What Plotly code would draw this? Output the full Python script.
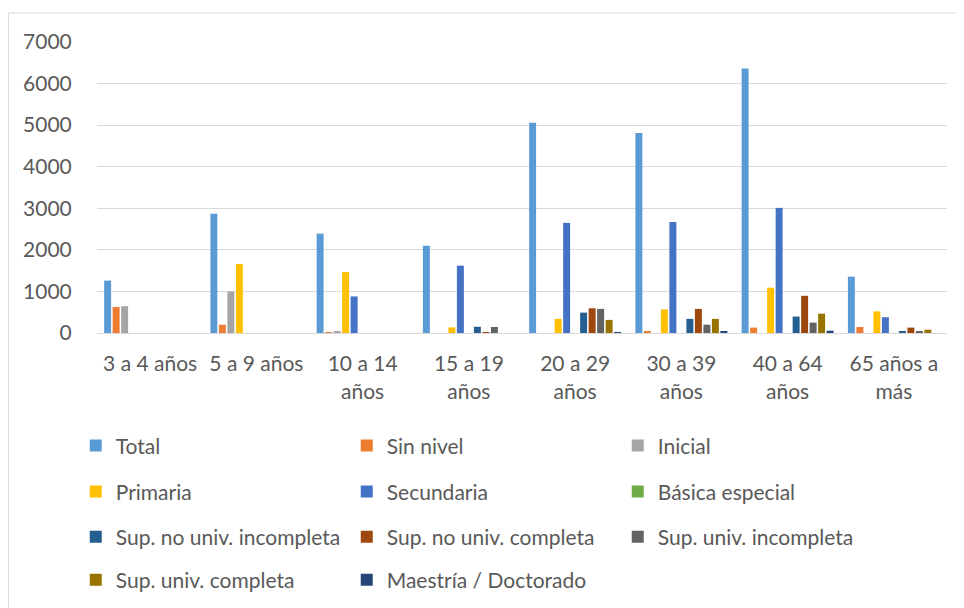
import plotly.graph_objects as go

# Age groups (x categories)
categories = ["3 a 4 años", "5 a 9 años", "10 a 14<br>años", "15 a 19<br>años",
              "20 a 29<br>años", "30 a 39<br>años", "40 a 64<br>años", "65 años a<br>más"]

# Values, one list per education level
total = [1260, 2870, 2390, 2100, 5060, 4810, 6360, 1355]
sin_nivel = [625, 200, 20, 0, 0, 30, 130, 145]
inicial = [645, 1000, 30, 0, 0, 0, 0, 0]
primaria = [0, 1660, 1465, 135, 340, 565, 1090, 520]
secundaria = [0, 0, 880, 1620, 2650, 2670, 3010, 380]
basica_especial = [0, 0, 0, 0, 0, 0, 0, 0]
sup_no_univ_inc = [0, 0, 0, 150, 490, 340, 395, 30]
sup_no_univ_comp = [0, 0, 0, 10, 595, 580, 895, 130]
sup_univ_inc = [0, 0, 0, 145, 580, 200, 250, 30]
sup_univ_comp = [0, 0, 0, 0, 315, 340, 465, 80]
maestria = [0, 0, 0, 0, 10, 30, 55, 0]

series = [
    ("Total", total, "#5B9BD5", "legend"),
    ("Sin nivel", sin_nivel, "#ED7D31", "legend"),
    ("Inicial", inicial, "#A5A5A5", "legend"),
    ("Primaria", primaria, "#FFC000", "legend2"),
    ("Secundaria", secundaria, "#4472C4", "legend2"),
    ("Básica especial", basica_especial, "#70AD47", "legend2"),
    ("Sup. no univ. incompleta", sup_no_univ_inc, "#255E91", "legend3"),
    ("Sup. no univ. completa", sup_no_univ_comp, "#9E480E", "legend3"),
    ("Sup. univ. incompleta", sup_univ_inc, "#636363", "legend3"),
    ("Sup. univ. completa", sup_univ_comp, "#997300", "legend4"),
    ("Maestría / Doctorado", maestria, "#264478", "legend4"),
]

fig = go.Figure()
for name, vals, color, leg in series:
    fig.add_trace(go.Bar(x=categories, y=vals, name=name, marker_color=color,
                         marker_line_width=0, legend=leg))

FONT = "Lato, 'Noto Sans', sans-serif"
SIZE = 21
txt = "#595959"

def row_legend(ypos):
    return dict(orientation="h", x=-0.025, xanchor="left", y=ypos, yanchor="middle",
                entrywidth=226, entrywidthmode="pixels", itemwidth=30,
                font=dict(family=FONT, size=SIZE, color=txt), bgcolor="rgba(0,0,0,0)")

# page body adds an 8px offset, so the figure is 8px smaller than the window
fig.update_layout(
    width=956, height=600,
    margin=dict(l=89, r=17, t=34, b=275, autoexpand=False),
    paper_bgcolor="white", plot_bgcolor="white",
    barmode="group", bargap=0.12, bargroupgap=0.18,
    font=dict(family=FONT, size=SIZE, color=txt),
    legend=row_legend(-0.388),
    legend2=row_legend(-0.546),
    legend3=row_legend(-0.701),
    legend4=row_legend(-0.849),
    xaxis=dict(showgrid=False, showline=True, linecolor="#D9D9D9", linewidth=1,
               ticks="outside", ticklen=12, tickcolor="rgba(0,0,0,0)",
               tickfont=dict(family=FONT, size=SIZE, color=txt)),
    yaxis=dict(range=[0, 7000], dtick=1000, showgrid=True, gridcolor="#D9D9D9",
               gridwidth=1, zeroline=False, showline=False,
               ticks="outside", ticklen=20, tickcolor="rgba(0,0,0,0)",
               tickfont=dict(family=FONT, size=SIZE, color=txt)),
    shapes=[dict(type="rect", xref="paper", yref="paper",
                 x0=-0.1041, x1=1.05, y0=-1.2, y1=1.0997,
                 line=dict(color="#D9D9D9", width=1), fillcolor="rgba(0,0,0,0)")],
)

fig.write_html("out.html")
